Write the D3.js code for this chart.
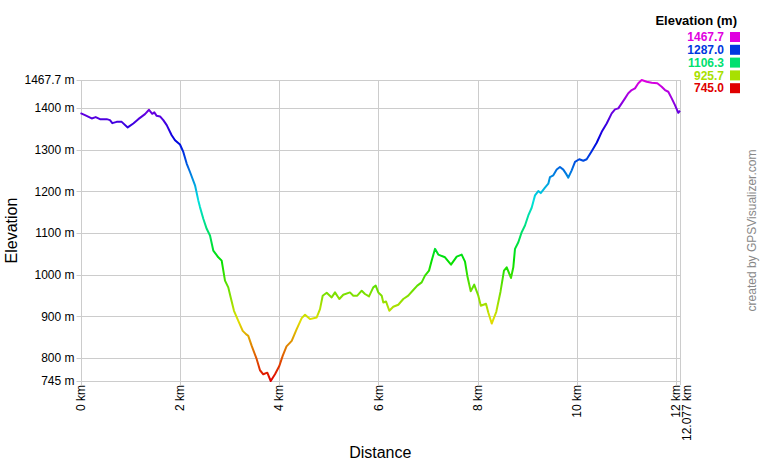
<!DOCTYPE html>
<html>
<head>
<meta charset="utf-8">
<script src="https://cdn.jsdelivr.net/npm/d3@7"></script>
<style>
  html, body { margin: 0; padding: 0; background: #fff; }
  svg { display: block; font-family: "Liberation Sans", Arial, sans-serif; }
</style>
</head>
<body>
<svg id="chart" width="760" height="460"></svg>
<script>
// ---- data ----
const distKm = [0.000,0.091,0.226,0.306,0.393,0.528,0.594,0.641,0.729,0.830,0.951,1.064,1.164,1.299,1.380,1.446,1.487,1.535,1.602,1.668,1.737,1.837,1.904,2.004,2.071,2.139,2.206,2.307,2.373,2.407,2.474,2.542,2.609,2.675,2.776,2.844,2.911,2.977,3.026,3.092,3.179,3.268,3.334,3.380,3.449,3.550,3.616,3.682,3.763,3.832,3.918,4.005,4.073,4.150,4.255,4.355,4.456,4.523,4.623,4.758,4.825,4.879,4.960,5.060,5.127,5.214,5.294,5.429,5.496,5.576,5.665,5.731,5.812,5.898,5.947,5.999,6.068,6.100,6.154,6.221,6.301,6.402,6.503,6.603,6.704,6.785,6.873,6.940,7.021,7.075,7.142,7.208,7.343,7.464,7.579,7.679,7.746,7.792,7.861,7.931,8.014,8.064,8.169,8.215,8.284,8.376,8.461,8.531,8.586,8.672,8.719,8.753,8.820,8.888,8.954,9.021,9.089,9.156,9.222,9.271,9.357,9.424,9.458,9.525,9.593,9.659,9.726,9.780,9.827,9.895,9.962,10.048,10.129,10.197,10.298,10.399,10.500,10.600,10.701,10.768,10.834,10.902,10.969,11.035,11.104,11.170,11.237,11.305,11.406,11.507,11.620,11.708,11.775,11.841,11.910,11.976,12.043,12.077];
const elevM = [1388.2,1383.4,1375.4,1378.6,1373.7,1373.7,1371.3,1364.1,1367.2,1367.2,1353.8,1363.4,1373.7,1385.8,1396.2,1386.5,1389.9,1381.7,1380.3,1371.3,1359.3,1335.2,1323.2,1312.8,1295.0,1267.0,1246.8,1214.8,1178.6,1162.5,1134.5,1110.4,1094.3,1058.2,1042.0,1034.1,985.9,969.8,945.7,913.6,889.5,865.4,857.5,853.4,829.3,797.3,770.8,761.1,765.0,745.0,761.1,781.1,805.2,828.1,841.4,869.5,896.0,904.0,893.6,897.5,917.7,949.8,957.0,945.7,957.7,941.8,952.2,957.7,949.8,949.8,961.8,953.9,948.1,969.8,973.9,957.7,949.8,933.6,936.0,913.6,923.3,928.1,941.8,949.8,963.5,973.9,981.8,997.9,1010.0,1034.1,1062.3,1048.5,1042.0,1024.4,1043.7,1048.5,1031.7,997.9,960.6,976.3,949.8,925.7,930.5,909.5,883.0,911.2,959.4,1010.0,1017.9,992.4,1017.9,1062.3,1078.2,1102.3,1118.4,1142.5,1161.0,1190.7,1201.0,1196.2,1209.2,1218.8,1234.7,1238.8,1252.6,1258.8,1252.6,1242.9,1233.3,1250.9,1270.9,1277.4,1273.8,1277.4,1296.7,1317.1,1343.2,1363.4,1387.5,1397.1,1399.5,1411.6,1423.6,1435.7,1443.6,1447.7,1459.8,1467.7,1463.6,1461.2,1459.8,1451.6,1443.6,1439.5,1423.6,1407.5,1388.9,1394.2];

const xTicks = [0, 2, 4, 6, 8, 10, 12];
const xEnd = 12.077;
const yTicks = [800, 900, 1000, 1100, 1200, 1300, 1400];
const yMin = 745.0, yMax = 1467.7;
const legendValues = [1467.7, 1287.0, 1106.3, 925.7, 745.0];

// ---- layout ----
const svg = d3.select("#chart");
const L = 80.5, R = 680, T = 80, B = 381;
const x = d3.scaleLinear().domain([0, xEnd]).range([L, R]);
const y = d3.scaleLinear().domain([yMin, yMax]).range([B, T]);
const hue = d3.scaleLinear().domain([yMin, yMax]).range([0, 300]);
const colorOf = v => d3.hsl(hue(v), 1, 0.44).formatHex();

const grid = "#cccccc";

// horizontal grid + y ticks
const yAll = [yMin].concat(yTicks, [yMax]);
const gy = svg.append("g");
gy.selectAll("line.h").data(yAll).join("line")
  .attr("x1", L - 4).attr("x2", R)
  .attr("y1", d => Math.round(y(d)) + 0.5).attr("y2", d => Math.round(y(d)) + 0.5)
  .attr("stroke", grid).attr("stroke-width", 1);
gy.selectAll("text").data(yAll).join("text")
  .attr("x", L - 6).attr("y", d => y(d)).attr("dy", "0.35em")
  .attr("text-anchor", "end").attr("font-size", 12).attr("fill", "#000")
  .text(d => (d === yMax || d === yMin ? d3.format(d % 1 ? ".1f" : "d")(d) : d) + " m");

// vertical grid + x ticks
const xAll = xTicks.concat([xEnd]);
const gx = svg.append("g");
gx.selectAll("line.v").data(xAll).join("line")
  .attr("x1", d => Math.round(x(d)) + 0.5).attr("x2", d => Math.round(x(d)) + 0.5)
  .attr("y1", T).attr("y2", B + 4)
  .attr("stroke", grid).attr("stroke-width", 1);
gx.selectAll("text").data(xAll).join("text")
  .attr("transform", d => `translate(${d === xEnd ? x(d) + 7 : x(d)},${B + 4}) rotate(-90)`)
  .attr("dy", "0.35em")
  .attr("text-anchor", "end").attr("font-size", 12).attr("fill", "#000")
  .text(d => (d === xEnd ? d3.format(".3f")(d) : d) + " km");

// gradient by elevation
const defs = svg.append("defs");
const grad = defs.append("linearGradient").attr("id", "elevGrad")
  .attr("gradientUnits", "userSpaceOnUse")
  .attr("x1", 0).attr("x2", 0).attr("y1", y(yMin)).attr("y2", y(yMax));
d3.range(0, 1.0001, 0.05).forEach(t => {
  grad.append("stop").attr("offset", t).attr("stop-color", colorOf(yMin + t * (yMax - yMin)));
});

const pts = distKm.map((d, i) => [d, elevM[i]]);
const line = d3.line().x(d => x(d[0])).y(d => y(d[1]));
svg.append("path").datum(pts)
  .attr("d", line)
  .attr("fill", "none")
  .attr("stroke", "url(#elevGrad)")
  .attr("stroke-width", 2)
  .attr("stroke-linejoin", "round");

// axis titles
svg.append("text")
  .attr("transform", `translate(${(L + R) / 2},458)`)
  .attr("text-anchor", "middle").attr("font-size", 16).attr("fill", "#000")
  .text("Distance");
svg.append("text")
  .attr("transform", `translate(17,${(T + B) / 2}) rotate(-90)`)
  .attr("text-anchor", "middle").attr("font-size", 16).attr("fill", "#000")
  .text("Elevation");

// legend
svg.append("text")
  .attr("x", 737).attr("y", 25)
  .attr("text-anchor", "end").attr("font-size", 13).attr("font-weight", "bold").attr("fill", "#000")
  .text("Elevation (m)");
const lg = svg.append("g");
lg.selectAll("text").data(legendValues).join("text")
  .attr("x", 724).attr("y", (d, i) => 37 + i * 12.8).attr("dy", "0.35em")
  .attr("text-anchor", "end").attr("font-size", 12).attr("font-weight", "bold")
  .attr("fill", d => colorOf(d))
  .text(d => d3.format(".1f")(d));
lg.selectAll("rect").data(legendValues).join("rect")
  .attr("x", 730).attr("y", (d, i) => 37 + i * 12.8 - 5)
  .attr("width", 10).attr("height", 10)
  .attr("fill", d => colorOf(d));

// credit
svg.append("text")
  .attr("transform", `translate(756,${(T + B) / 2}) rotate(-90)`)
  .attr("text-anchor", "middle").attr("font-size", 12).attr("fill", "#888")
  .text("created by GPSVisualizer.com");
</script>
</body>
</html>
